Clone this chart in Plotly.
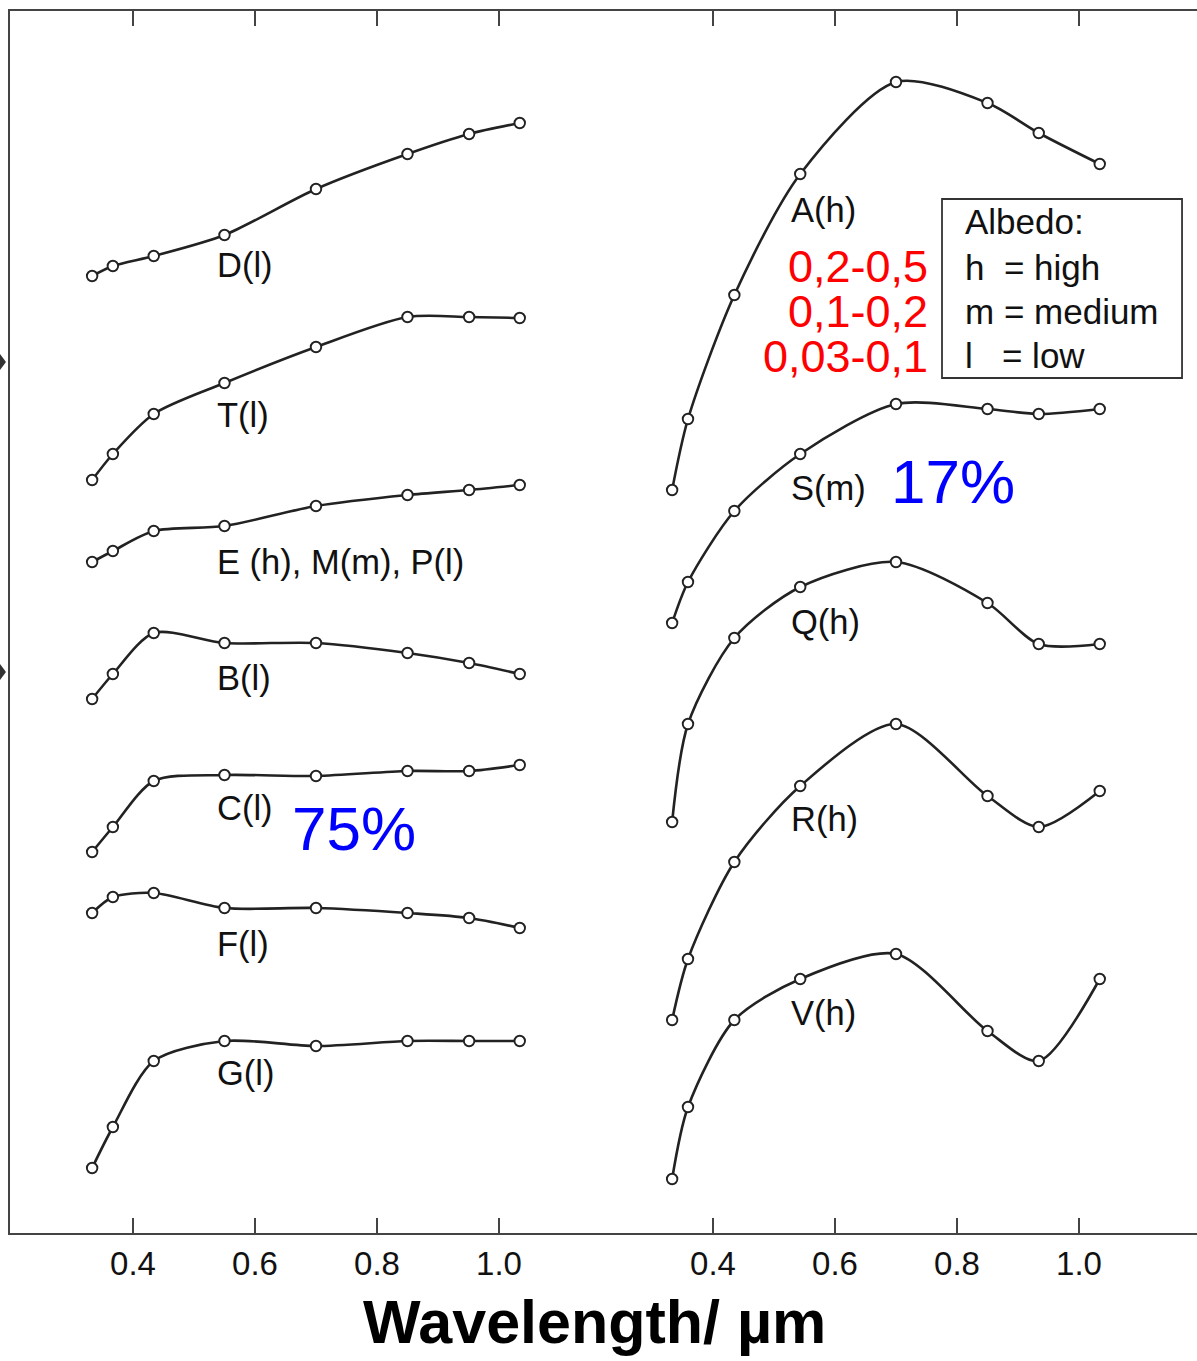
import plotly.graph_objects as go

# ---------------- data (offset relative reflectance, arbitrary units) -------------
wl_left = [0.333, 0.367, 0.434, 0.550, 0.700, 0.850, 0.951, 1.034]
wl_right = [0.333, 0.359, 0.435, 0.543, 0.700, 0.850, 0.934, 1.034]

D_l = [9.57, 9.67, 9.77, 9.98, 10.44, 10.79, 10.99, 11.10]
T_l = [7.53, 7.79, 8.19, 8.50, 8.86, 9.16, 9.16, 9.15]
EMP = [6.71, 6.82, 7.02, 7.07, 7.27, 7.38, 7.43, 7.48]
B_l = [5.34, 5.59, 6.00, 5.90, 5.90, 5.80, 5.70, 5.59]
C_l = [3.81, 4.06, 4.52, 4.58, 4.57, 4.62, 4.62, 4.68]
F_l = [3.20, 3.36, 3.40, 3.25, 3.25, 3.20, 3.15, 3.05]
G_l = [0.65, 1.06, 1.72, 1.92, 1.87, 1.92, 1.92, 1.92]

A_h = [7.43, 8.14, 9.38, 10.59, 11.51, 11.30, 11.00, 10.69]
S_m = [6.10, 6.51, 7.22, 7.79, 8.29, 8.24, 8.19, 8.24]
Q_h = [4.11, 5.09, 5.95, 6.46, 6.71, 6.30, 5.89, 5.89]
R_h = [2.13, 2.74, 3.71, 4.47, 5.09, 4.37, 4.06, 4.42]
V_h = [0.54, 1.26, 2.13, 2.54, 2.79, 2.02, 1.72, 2.54]

left_series = [D_l, T_l, EMP, B_l, C_l, F_l, G_l]
left_labels = ["D(l)", "T(l)", "E (h), M(m), P(l)", "B(l)", "C(l)", "F(l)", "G(l)"]
right_series = [A_h, S_m, Q_h, R_h, V_h]
right_labels = ["A(h)", "S(m)", "Q(h)", "R(h)", "V(h)"]

tick_vals = [0.4, 0.6, 0.8, 1.0]
tick_text = ["0.4", "0.6", "0.8", "1.0"]

albedo_ranges = ["0,2-0,5", "0,1-0,2", "0,03-0,1"]
legend_lines = ["Albedo:", "h\u00a0\u00a0= high", "m = medium", "l\u00a0\u00a0\u00a0= low"]
share_left = "75%"
share_right = "17%"

# ---------------- layout constants -------------
left_label_pos = [(0.535, 9.68), (0.535, 8.18), (0.535, 6.71), (0.535, 5.55),
                  (0.535, 4.25), (0.535, 2.89), (0.535, 1.60)]
right_label_pos = [(0.525, 10.23), (0.525, 7.45), (0.525, 6.11), (0.525, 4.14), (0.525, 2.20)]

FONT = "Liberation Sans, Arial, sans-serif"
LINE_COL = "#222222"
AX_COL = "#444444"

fig = go.Figure()

def add_curve(x, y, axis):
    fig.add_trace(go.Scatter(
        x=x, y=y, xaxis=axis, yaxis="y", mode="lines+markers",
        line=dict(color=LINE_COL, width=2.6, shape="spline", smoothing=0.8),
        marker=dict(symbol="circle", size=10.5, color="white",
                    line=dict(color=LINE_COL, width=1.9)),
        showlegend=False, hoverinfo="skip"))

for s in left_series:
    add_curve(wl_left, s, "x")
for s in right_series:
    add_curve(wl_right, s, "x2")

ann = []
for txt, (x, y) in zip(left_labels, left_label_pos):
    ann.append(dict(x=x, y=y, xref="x", yref="y", text=txt, showarrow=False,
                    xanchor="left", yanchor="middle",
                    font=dict(family=FONT, size=34.5, color="#111111")))
for txt, (x, y) in zip(right_labels, right_label_pos):
    ann.append(dict(x=x, y=y, xref="x2", yref="y", text=txt, showarrow=False,
                    xanchor="left", yanchor="middle",
                    font=dict(family=FONT, size=34.5, color="#111111")))

red_y = [9.67, 9.22, 8.77]
for txt, y in zip(albedo_ranges, red_y):
    ann.append(dict(x=0.7557, y=y, xref="x2", yref="y", text=txt, showarrow=False,
                    xanchor="right", yanchor="middle", height=44,
                    font=dict(family=FONT, size=45, color="#ff0000")))

leg_y = [10.12, 9.66, 9.22, 8.78]
for txt, y in zip(legend_lines, leg_y):
    ann.append(dict(x=0.8098, y=y, xref="x2", yref="y", text=txt, showarrow=False,
                    xanchor="left", yanchor="middle",
                    font=dict(family=FONT, size=35, color="#111111")))

ann.append(dict(x=0.6573, y=4.05, xref="x", yref="y", text=share_left, showarrow=False,
                xanchor="left", yanchor="middle",
                font=dict(family=FONT, size=62, color="#0000ff")))
ann.append(dict(x=0.6885, y=7.52, xref="x2", yref="y", text=share_right, showarrow=False,
                xanchor="left", yanchor="middle",
                font=dict(family=FONT, size=62, color="#0000ff")))

ann.append(dict(x=0.4928, y=-0.0725, xref="paper", yref="paper",
                text="<b>Wavelength/ \u00b5m</b>", showarrow=False,
                xanchor="center", yanchor="middle",
                font=dict(family=FONT, size=61, color="#000000")))

shapes = [
    dict(type="rect", xref="x2", yref="y", x0=0.7754, x1=1.1689, y0=8.55, y1=10.34,
         line=dict(color="#333333", width=1.8), fillcolor="rgba(0,0,0,0)"),
    # clipped arrow tips at the left edge of the original figure
    dict(type="path", xref="paper", yref="y",
         path="M -0.0084,8.79 L -0.0034,8.71 L -0.0084,8.63 Z",
         fillcolor="#333333", line=dict(width=0)),
    dict(type="path", xref="paper", yref="y",
         path="M -0.0084,5.69 L -0.0034,5.61 L -0.0084,5.53 Z",
         fillcolor="#333333", line=dict(width=0)),
]

axis_common = dict(
    showline=True, linecolor=AX_COL, linewidth=2, mirror="ticks",
    ticks="inside", ticklen=15, tickwidth=2, tickcolor=AX_COL,
    tickvals=tick_vals, ticktext=tick_text, showgrid=False, zeroline=False,
    tickfont=dict(family=FONT, size=33, color="#111111"),
)

fig.update_layout(
    width=1197, height=1361,
    margin=dict(l=10, r=0, t=11, b=128),
    paper_bgcolor="white", plot_bgcolor="white",
    xaxis=dict(range=[0.19836, 2.14426], **axis_common),
    xaxis2=dict(range=[-0.75246, 1.19344], overlaying="x", side="bottom", **axis_common),
    yaxis=dict(range=[0, 12.22], showline=True, linecolor=AX_COL, linewidth=2,
               mirror=False, showticklabels=False, ticks="", showgrid=False, zeroline=False),
    annotations=ann, shapes=shapes,
)

fig.write_html("out.html")
